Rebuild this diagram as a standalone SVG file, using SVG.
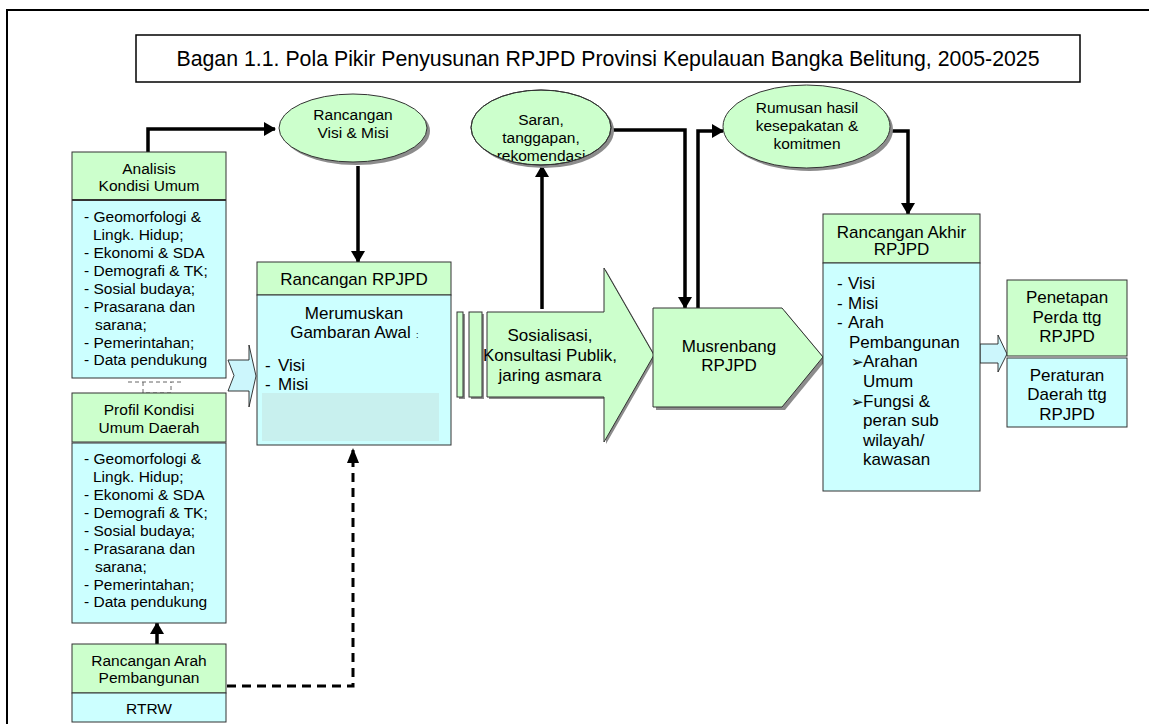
<svg xmlns="http://www.w3.org/2000/svg" width="1149" height="724" viewBox="0 0 1149 724">
<defs>
<style>
text{font-family:"Liberation Sans",Arial,sans-serif;fill:#000}
.t15{font-size:15.5px}
.t17{font-size:17px}
.c{text-anchor:middle}
.g{fill:#ccffcc;stroke:#333;stroke-width:1}
.b{fill:#ccffff;stroke:#333;stroke-width:1}
.sh{fill:#8c8c8c;stroke:none}
.ln{fill:none;stroke:#000;stroke-width:3.5}
.dl{fill:none;stroke:#000;stroke-width:3;stroke-dasharray:9 6}
.ar{fill:#ccf6fc;stroke:#222;stroke-width:0.9}
.bul{font-family:"DejaVu Sans",sans-serif;font-size:15px}
</style>
<marker id="ah" viewBox="0 0 12 14" refX="11" refY="7" markerWidth="12" markerHeight="14" markerUnits="userSpaceOnUse" orient="auto">
<path d="M0,0 L12,7 L0,14 Z" fill="#000"/>
</marker>
<clipPath id="clipSaran"><ellipse cx="541" cy="127.5" rx="70" ry="37.5"/></clipPath>
</defs>
<rect width="1149" height="724" fill="#fff"/>
<rect x="7" y="10" width="1160" height="730" fill="none" stroke="#000" stroke-width="2"/>

<g id="title">
<rect x="136" y="35" width="944" height="47" fill="#fff" stroke="#000" stroke-width="1.5"/>
<text x="608" y="66" class="c" style="font-size:21.3px">Bagan 1.1. Pola Pikir Penyusunan RPJPD Provinsi Kepulauan Bangka Belitung, 2005-2025</text>
</g>

<g id="connectors">
<path class="ln" d="M148,152 L148,129 L275,129" marker-end="url(#ah)"/>
<path class="ln" d="M358,166 L358,262" marker-end="url(#ah)"/>
<path class="ln" d="M542,309 L542,166" marker-end="url(#ah)"/>
<path class="ln" d="M611,130 L685,130 L685,308" marker-end="url(#ah)"/>
<path class="ln" d="M698,308 L698,131 L723,131" marker-end="url(#ah)"/>
<path class="ln" d="M888,131 L908,131 L908,214" marker-end="url(#ah)"/>
<path class="ln" d="M157,644 L157,623" marker-end="url(#ah)"/>
<path class="dl" d="M227,686 L353,686 L353,450"/>
<path d="M347,463 L353,448 L359,463 Z" fill="#000"/>
<path d="M128,382 L183,382 M143,382 L143,393 L171,393 L171,382" fill="none" stroke="#666" stroke-width="1" stroke-dasharray="4 3"/>
<path class="ar" d="M228,360 L249,360 L249,345 L256,376 L249,407 L249,391 L228,391 L234,375.5 Z"/>
<path class="ar" d="M980,344 L998,344 L998,335 L1007,354 L998,372 L998,363 L980,363 Z"/>
</g>

<g id="analisis">
<rect class="g" x="72" y="152" width="154" height="47.5"/>
<text class="t15 c" x="149" y="173.5">Analisis</text>
<text class="t15 c" x="149" y="190.5">Kondisi Umum</text>
<rect class="b" x="72" y="200.5" width="154" height="177.5"/>
<text class="t15" x="84" y="222">- Geomorfologi &amp;</text>
<text class="t15" x="93" y="240">Lingk. Hidup;</text>
<text class="t15" x="84" y="258">- Ekonomi &amp; SDA</text>
<text class="t15" x="84" y="276">- Demografi &amp; TK;</text>
<text class="t15" x="84" y="294">- Sosial budaya;</text>
<text class="t15" x="84" y="312">- Prasarana dan</text>
<text class="t15" x="95" y="330">sarana;</text>
<text class="t15" x="84" y="348">- Pemerintahan;</text>
<text class="t15" x="84" y="365">- Data pendukung</text>
</g>

<g id="profil">
<rect class="g" x="72" y="393" width="154" height="49"/>
<text class="t15 c" x="149" y="414.5">Profil Kondisi</text>
<text class="t15 c" x="149" y="432.5">Umum Daerah</text>
<rect class="b" x="72" y="443" width="154" height="180"/>
<text class="t15" x="84" y="464">- Geomorfologi &amp;</text>
<text class="t15" x="93" y="482">Lingk. Hidup;</text>
<text class="t15" x="84" y="500">- Ekonomi &amp; SDA</text>
<text class="t15" x="84" y="518">- Demografi &amp; TK;</text>
<text class="t15" x="84" y="536">- Sosial budaya;</text>
<text class="t15" x="84" y="554">- Prasarana dan</text>
<text class="t15" x="95" y="572">sarana;</text>
<text class="t15" x="84" y="590">- Pemerintahan;</text>
<text class="t15" x="84" y="607">- Data pendukung</text>
</g>

<g id="rancangan-arah">
<rect class="g" x="72" y="644" width="154" height="49"/>
<text class="t15 c" x="149" y="665.5">Rancangan Arah</text>
<text class="t15 c" x="149" y="682.5">Pembangunan</text>
<rect class="b" x="72" y="693" width="154" height="29"/>
<text class="t15 c" x="149" y="713.5">RTRW</text>
</g>

<g id="visi-misi">
<ellipse class="sh" cx="356" cy="131" rx="74" ry="34"/>
<ellipse class="g" cx="353" cy="128" rx="74" ry="34"/>
<text class="t15 c" x="353" y="119.5">Rancangan</text>
<text class="t15 c" x="353" y="137.5">Visi &amp; Misi</text>
</g>

<g id="rancangan-rpjpd">
<rect class="g" x="257" y="262" width="194" height="33"/>
<text class="t17 c" x="354" y="284.5">Rancangan RPJPD</text>
<rect class="b" x="257" y="295" width="194" height="150"/>
<rect x="262" y="393" width="177" height="48" fill="#c8f0ee"/>
<text class="t17 c" x="354" y="319">Merumuskan</text>
<text class="t17 c" x="350.5" y="338">Gambaran Awal</text>
<text x="416" y="338" style="font-size:9px">:</text>
<text class="t17" x="265" y="370.5">-</text>
<text class="t17" x="278" y="370.5">Visi</text>
<text class="t17" x="265" y="389.5">-</text>
<text class="t17" x="278" y="389.5">Misi</text>
</g>

<g id="sosialisasi">
<rect class="sh" x="459" y="314" width="6" height="85"/>
<rect class="sh" x="471" y="314" width="13" height="85"/>
<path class="sh" d="M489,314 L606,314 L606,270 L656,357 L606,444 L606,399 L489,399 Z"/>
<rect class="g" x="457" y="312" width="6" height="85"/>
<rect class="g" x="469" y="312" width="13" height="85"/>
<path class="g" d="M487,312 L604,312 L604,268 L654,355 L604,442 L604,397 L487,397 Z"/>
<text class="t17 c" x="550" y="341">Sosialisasi,</text>
<text class="t17 c" x="550" y="361">Konsultasi Publik,</text>
<text class="t17 c" x="550" y="381">jaring asmara</text>
</g>

<g id="saran">
<ellipse class="sh" cx="544" cy="130.5" rx="70" ry="37.5"/>
<ellipse class="g" cx="541" cy="127.5" rx="70" ry="37.5"/>
<g clip-path="url(#clipSaran)">
<text class="t15 c" x="541" y="124.5">Saran,</text>
<text class="t15 c" x="541" y="142.5">tanggapan,</text>
<text class="t15 c" x="541" y="160.5">rekomendasi</text>
</g>
<ellipse cx="541" cy="127.5" rx="70" ry="37.5" fill="none" stroke="#333" stroke-width="1"/>
</g>

<g id="musrenbang">
<path class="sh" d="M656,311 L785,311 L826,360 L785,410 L656,410 Z"/>
<path class="g" d="M653,308 L782,308 L823,357 L782,407 L653,407 Z"/>
<text class="t17 c" x="729" y="352">Musrenbang</text>
<text class="t17 c" x="729" y="371">RPJPD</text>
</g>

<g id="rumusan">
<ellipse class="sh" cx="809.5" cy="129.5" rx="83.5" ry="41.5"/>
<ellipse class="g" cx="806.5" cy="126.5" rx="83.5" ry="41.5"/>
<text class="t15 c" x="807" y="112.5">Rumusan hasil</text>
<text class="t15 c" x="807" y="130.5">kesepakatan &amp;</text>
<text class="t15 c" x="807" y="148.5">komitmen</text>
</g>

<g id="rancangan-akhir">
<rect class="g" x="823" y="214" width="157" height="49"/>
<text class="t17 c" x="901.5" y="238">Rancangan Akhir</text>
<text class="t17 c" x="901.5" y="255">RPJPD</text>
<rect class="b" x="823" y="263" width="157" height="228"/>
<text class="t17" x="837" y="289">-</text><text class="t17" x="848" y="289">Visi</text>
<text class="t17" x="837" y="308.6">-</text><text class="t17" x="848" y="308.6">Misi</text>
<text class="t17" x="837" y="328.2">-</text><text class="t17" x="848" y="328.2">Arah</text>
<text class="t17" x="849" y="347.8">Pembangunan</text>
<text class="bul" x="851" y="367.4">➢</text><text class="t17" x="863" y="367.4">Arahan</text>
<text class="t17" x="863" y="387">Umum</text>
<text class="bul" x="851" y="406.6">➢</text><text class="t17" x="863" y="406.6">Fungsi &amp;</text>
<text class="t17" x="863" y="426.2">peran sub</text>
<text class="t17" x="863" y="445.8">wilayah/</text>
<text class="t17" x="863" y="465.4">kawasan</text>
</g>

<g id="penetapan">
<rect class="g" x="1007" y="280" width="120" height="76"/>
<text class="t17 c" x="1067" y="303">Penetapan</text>
<text class="t17 c" x="1067" y="323">Perda ttg</text>
<text class="t17 c" x="1067" y="342">RPJPD</text>
<rect class="b" x="1007" y="358" width="120" height="69"/>
<text class="t17 c" x="1067" y="381">Peraturan</text>
<text class="t17 c" x="1067" y="400">Daerah ttg</text>
<text class="t17 c" x="1067" y="420">RPJPD</text>
</g>
</svg>
